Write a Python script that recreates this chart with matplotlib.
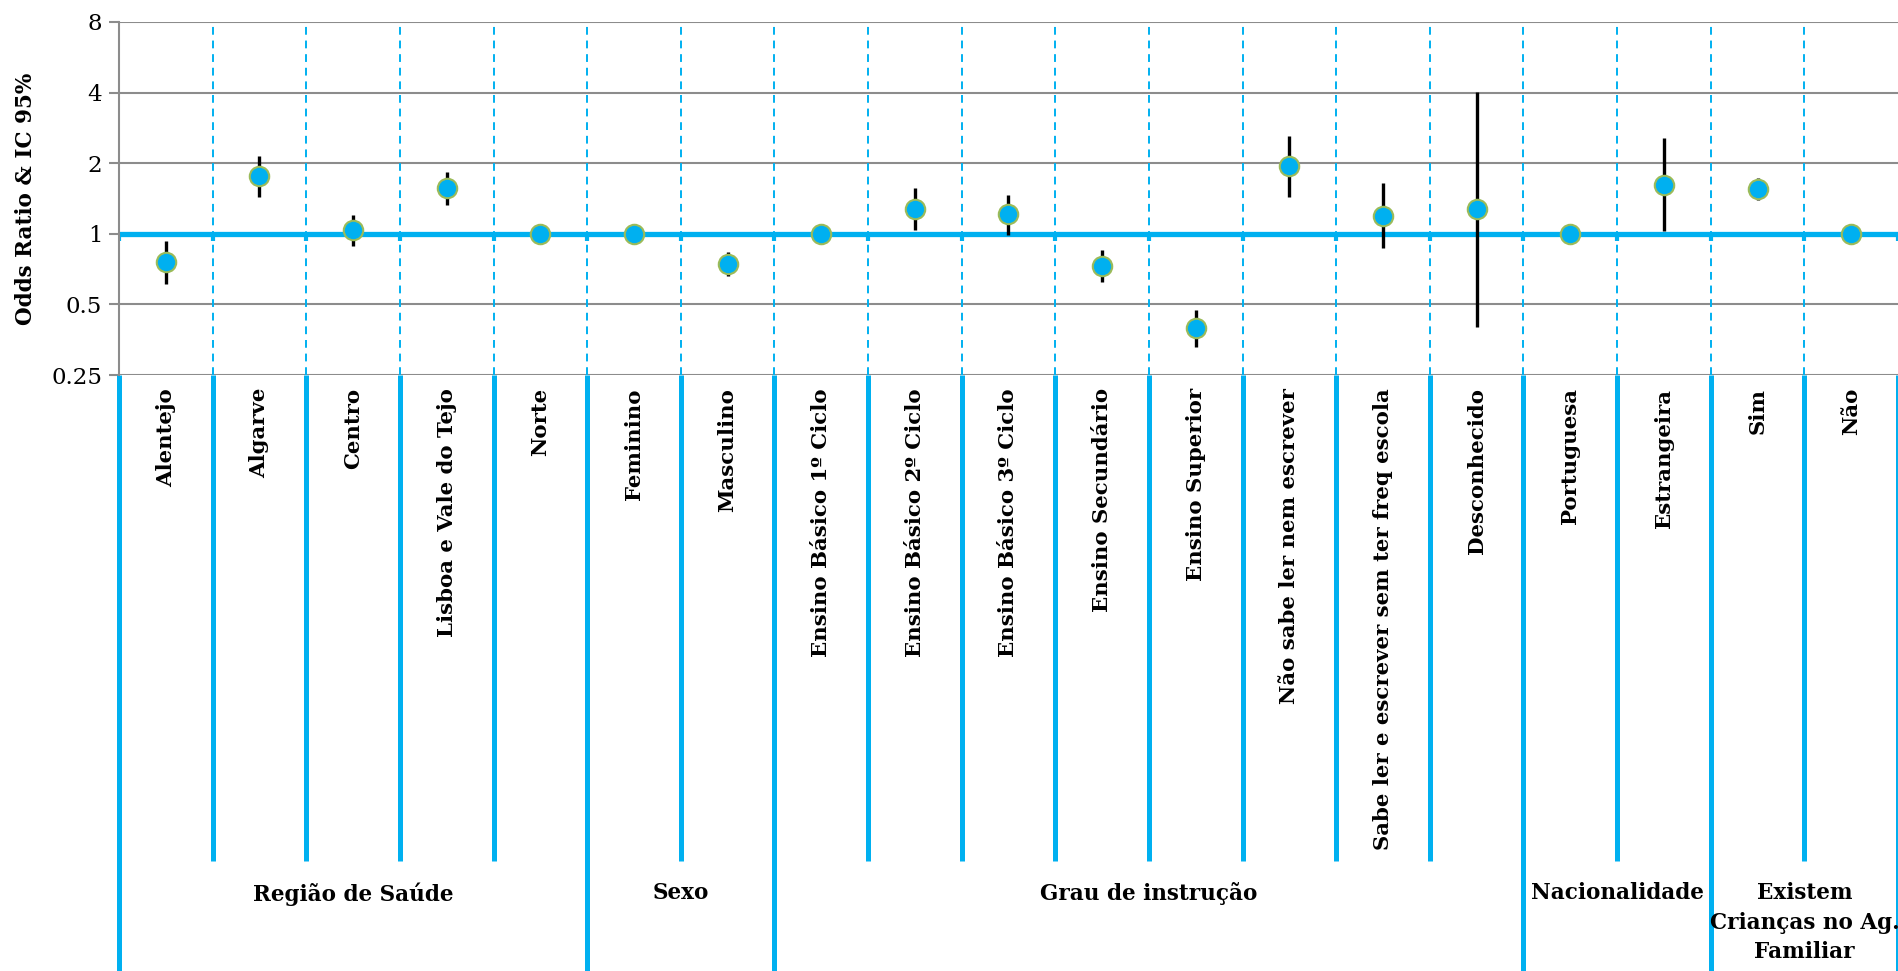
import matplotlib
matplotlib.use("Agg")
import matplotlib.pyplot as plt
import matplotlib.transforms as mtransforms
import numpy as np

plt.rcParams['font.family'] = ['DejaVu Serif']

# categories and odds ratios with 95% CI
categories = ["Alentejo", "Algarve", "Centro", "Lisboa e Vale do Tejo", "Norte",
              "Feminino", "Masculino",
              "Ensino Básico 1º Ciclo", "Ensino Básico 2º Ciclo", "Ensino Básico 3º Ciclo",
              "Ensino Secundário", "Ensino Superior", "Não sabe ler nem escrever",
              "Sabe ler e escrever sem ter freq escola", "Desconhecido",
              "Portuguesa", "Estrangeira", "Sim", "Não"]
odds = [0.76, 1.76, 1.04, 1.57, 1.0, 1.0, 0.74, 1.0, 1.28, 1.21, 0.73, 0.395,
        1.94, 1.19, 1.28, 1.0, 1.62, 1.55, 1.0]
ci_low = [0.61, 1.44, 0.89, 1.33, 1.0, 1.0, 0.66, 1.0, 1.04, 0.99, 0.62, 0.33,
          1.43, 0.87, 0.40, 1.0, 1.03, 1.40, 1.0]
ci_high = [0.93, 2.15, 1.20, 1.83, 1.0, 1.0, 0.835, 1.0, 1.57, 1.46, 0.855, 0.474,
           2.60, 1.65, 4.03, 1.0, 2.55, 1.73, 1.0]

group_names = ["Região de Saúde", "Sexo", "Grau de instrução", "Nacionalidade",
               "Existem\nCrianças no Ag.\nFamiliar"]
group_sizes = [5, 2, 8, 2, 2]

y_ticks = [0.25, 0.5, 1, 2, 4, 8]
y_tick_labels = ["0.25", "0.5", "1", "2", "4", "8"]

blue = "#00B0F0"
grey = "#8C8C8C"

W, H = 1899, 971
fig = plt.figure(figsize=(W / 100, H / 100), dpi=100)
ax = fig.add_axes([119 / W, 1 - 375 / H, (1898 - 119) / W, (375 - 22) / H])

n = len(categories)
x = np.arange(n)

ax.set_yscale('log', base=2)
ax.set_ylim(0.25, 8)
ax.set_xlim(-0.5, n - 0.5)
ax.set_yticks(y_ticks)
ax.set_yticklabels(y_tick_labels)
ax.yaxis.set_minor_locator(matplotlib.ticker.NullLocator())
ax.tick_params(axis='y', length=7, width=1.5, color=grey, labelsize=16.5, pad=5)
ax.set_xticks([])

for s in ['top', 'right', 'bottom']:
    ax.spines[s].set_visible(False)
ax.spines['left'].set_color(grey)
ax.spines['left'].set_linewidth(1.5)

for t in y_ticks:
    ax.axhline(t, color=grey, lw=1.5, zorder=1)

# dashed separators between categories
for b in np.arange(1, n) - 0.5:
    ax.axvline(b, color=blue, lw=1.4, ls=(0, (4, 3)), zorder=1)

# reference line at OR = 1 with small ticks
ax.axhline(1, color=blue, lw=3.8, zorder=2)
for b in np.arange(0, n + 1) - 0.5:
    ax.plot([b, b], [1, 2 ** -0.1], color=blue, lw=3, zorder=2, solid_capstyle='butt')

yerr = [np.array(odds) - np.array(ci_low), np.array(ci_high) - np.array(odds)]
ax.errorbar(x, odds, yerr=yerr, fmt='none', ecolor='black', elinewidth=2.4,
            capsize=0, zorder=3)
ax.plot(x, odds, 'o', ms=14, mfc=blue, mec='#9BBB59', mew=1.5, zorder=4,
        linestyle='none')

ax.set_ylabel("Odds Ratio & IC 95%", fontsize=15.5, fontweight='bold', labelpad=10)

# multi-level category axis below the plot
trans = mtransforms.blended_transform_factory(ax.transData, ax.transAxes)
ax_h = 375 - 22


def py(pix):
    return (375 - pix) / ax_h


for i, c in enumerate(categories):
    ax.text(i, py(388), c, rotation=90, ha='center', va='top', fontsize=15.3,
            fontweight='bold', transform=trans)

starts = np.cumsum([0] + group_sizes[:-1])
bounds = set(np.concatenate([starts, [n]]))
for b in range(n + 1):
    y_end = py(971) if b in bounds else py(861)
    ax.plot([b - 0.5, b - 0.5], [py(375), y_end], color=blue, lw=3.6,
            transform=trans, clip_on=False, solid_capstyle='butt')

for name, st, sz in zip(group_names, starts, group_sizes):
    cx = st + sz / 2 - 0.5
    ax.text(cx, py(882), name, ha='center', va='top', fontsize=15.5,
            fontweight='bold', transform=trans, linespacing=1.45)

fig.savefig("out.png", dpi=100)
